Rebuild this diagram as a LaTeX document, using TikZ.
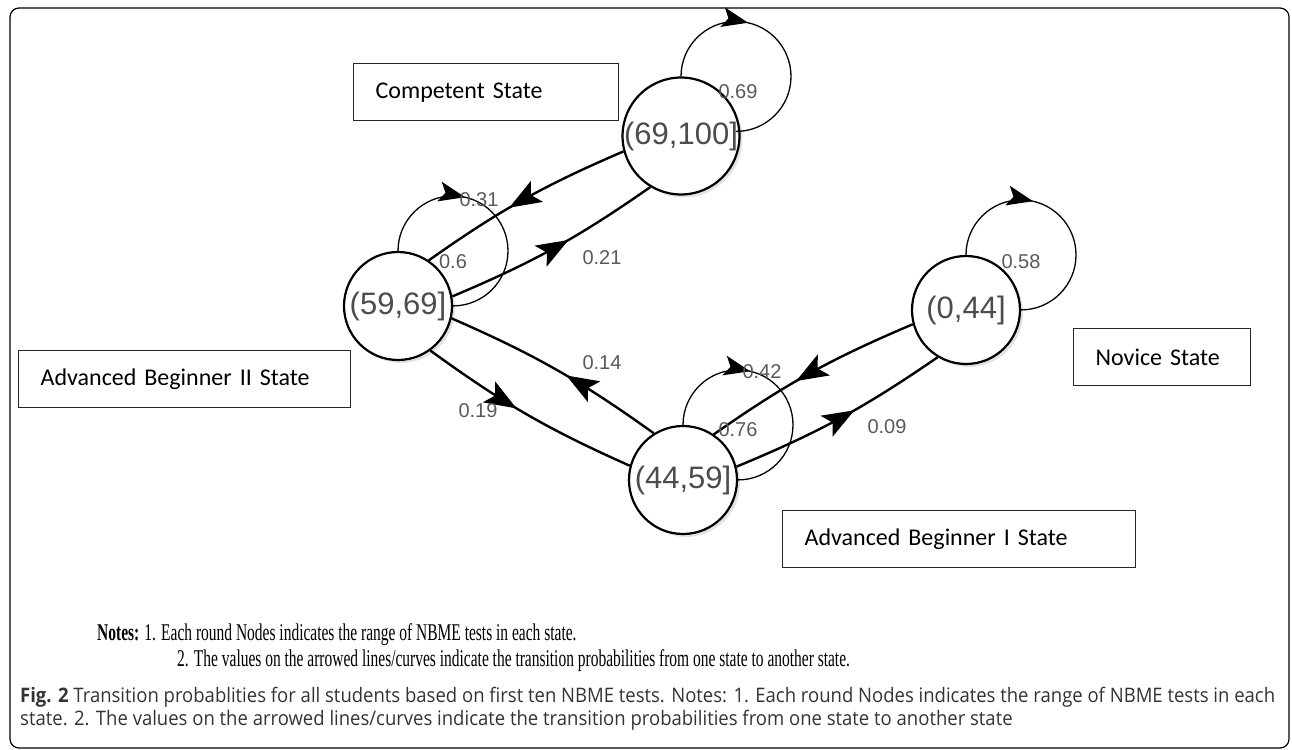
\documentclass[tikz,border=0pt]{standalone}
\usepackage{fontspec}
\setmainfont{Liberation Serif}
\newfontfamily\arialfont{Liberation Sans}
\newfontfamily\calibrifont{Carlito}
\newfontfamily\notefont[FakeStretch=0.645]{Liberation Serif}
\newfontfamily\capfont[FakeStretch=0.925]{Open Sans}
\usetikzlibrary{positioning, arrows.meta, decorations.markings, shadows}

\tikzset{
  state/.style={circle, draw=black, line width=2.2pt, fill=white,
    minimum size=108pt, inner sep=0pt, text=black!70,
    font=\arialfont\fontsize{31}{36}\selectfont,
    drop shadow={shadow xshift=3pt, shadow yshift=-3pt, fill=black!22}},
  prob/.style={text=black!65, font=\arialfont\fontsize{20}{24}\selectfont},
  statebox/.style={draw=black!85, line width=1.3pt, anchor=north west,
    minimum height=57pt, inner xsep=22pt, inner ysep=0pt, align=left,
    font=\calibrifont\fontsize{24}{28}\selectfont},
  trans/.style={line width=2.4pt,
    decoration={markings, mark=at position #1 with {\arrow{Stealth[length=32pt, width=24pt, inset=7pt]}}},
    postaction={decorate}},
  trans/.default=0.57,
  selfloop/.style={line width=1.3pt,
    decoration={markings, mark=at position 0.38 with {\arrow{Stealth[length=26pt, width=20pt, inset=6pt]}}},
    postaction={decorate}},
}

\begin{document}
\begin{tikzpicture}[x=1pt, y=-1pt]
  \useasboundingbox (0,0) rectangle (1292,749);
  \draw[line width=1.2pt, rounded corners=9pt] (10,8) rectangle (1289,748);

  % states
  \node[state] (high)  at (681,136) {(69,100]};
  \node[state] (upper) at (398,306) {(59,69]};
  \node[state] (lower) at (683,480) {(44,59]};
  \node[state] (low)   at (966,310) {(0,44]};

  % self loops
  \draw[selfloop] (high.north)  arc[start angle=180, end angle=450, radius=55];
  \draw[selfloop] (upper.north) arc[start angle=180, end angle=450, radius=55];
  \draw[selfloop] (lower.north) arc[start angle=180, end angle=450, radius=55];
  \draw[selfloop] (low.north)   arc[start angle=180, end angle=450, radius=55];

  % transitions
  \draw[trans] (high.195)   to[bend right=6] (upper.56);
  \draw[trans] (upper.10)   to[bend right=6] (high.239);
  \draw[trans=0.45] (upper.-54) to[bend right=6] (lower.165);
  \draw[trans=0.45] (lower.122) to[bend right=6] (upper.-13);
  \draw[trans] (lower.14)   to[bend right=6] (low.239);
  \draw[trans] (low.195)    to[bend right=6] (lower.56);

  % probabilities
  \node[prob] (pHH) at (738,92)  {0.69};
  \node[prob] (pHU) at (479,200) {0.31};
  \node[prob] (pUU) at (453,262) {0.6};
  \node[prob] (pUH) at (602,258) {0.21};
  \node[prob] (pLU) at (602,363) {0.14};
  \node[prob] (pUL) at (478,411) {0.19};
  \node[prob] (pLOL) at (762,372) {0.42};
  \node[prob] (pLL) at (738,430) {0.76};
  \node[prob] (pLLO) at (887,427) {0.09};
  \node[prob] (pLOLO) at (1021,262) {0.58};

  % state names
  \node[statebox, text width=221pt] (compbox) at (353,63)  {Competent State};
  \node[statebox, text width=288pt] (adv2box) at (18,350)  {Advanced Beginner II State};
  \node[statebox, text width=133pt] (novbox)  at (1073,328) {Novice State};
  \node[statebox, text width=309pt] (adv1box) at (782,510) {Advanced Beginner I State};

  % notes and caption
  \node[anchor=base west, inner sep=0pt, font=\notefont\fontsize{24}{28}\selectfont] (note1) at (97,640)
    {\textbf{Notes:} 1. Each round Nodes indicates the range of NBME tests in each state.};
  \node[anchor=base west, inner sep=0pt, font=\notefont\fontsize{24}{28}\selectfont] (note2) at (177,666)
    {2. The values on the arrowed lines/curves indicate the transition probabilities from one state to another state.};
  \node[anchor=base west, inner sep=0pt, text=black!80, font=\capfont\fontsize{20}{23}\selectfont] (cap1) at (20,702)
    {\textbf{Fig. 2} Transition probablities for all students based on first ten NBME tests. Notes: 1. Each round Nodes indicates the range of NBME tests in each};
  \node[anchor=base west, inner sep=0pt, text=black!80, font=\capfont\fontsize{20}{23}\selectfont] (cap2) at (20,725)
    {state. 2. The values on the arrowed lines/curves indicate the transition probabilities from one state to another state};
\end{tikzpicture}
\end{document}
